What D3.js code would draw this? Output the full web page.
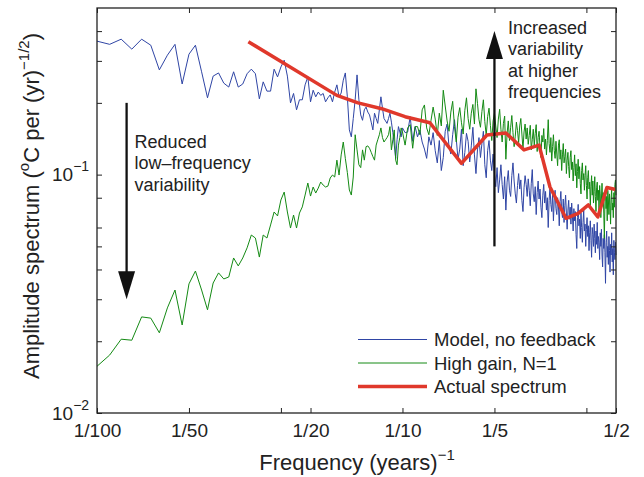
<!DOCTYPE html>
<html>
<head>
<meta charset="utf-8">
<script src="https://cdn.jsdelivr.net/npm/d3@7"></script>
<style>
  body { margin: 0; background: #fff; }
  text { font-family: "Liberation Sans", Arial, Helvetica, sans-serif; fill: #222; }
</style>
</head>
<body>
<div id="chart"></div>
<script>
// frequency grid of the spectra (cycles per year): 1/1000 steps up to 0.1, then 2/1000 steps
const freqs = d3.range(10, 100).concat(d3.range(100, 501, 2)).map(k => k / 1000);

// Model, no feedback (amplitude, degC per yr^-1/2)
const modelNoFeedback = [
  0.363, 0.352, 0.370, 0.336, 0.370, 0.349, 0.275, 0.317, 0.352, 0.240,
  0.320, 0.349, 0.270, 0.210, 0.259, 0.267, 0.242, 0.233, 0.270, 0.233,
  0.240, 0.265, 0.277, 0.265, 0.208, 0.245, 0.224, 0.224, 0.277, 0.257,
  0.283, 0.302, 0.259, 0.200, 0.219, 0.187, 0.206, 0.206, 0.238, 0.257,
  0.202, 0.226, 0.212, 0.222, 0.215, 0.219, 0.202, 0.210, 0.216, 0.202,
  0.222, 0.238, 0.212, 0.220, 0.249, 0.267, 0.212, 0.154, 0.144, 0.172,
  0.206, 0.262, 0.206, 0.178, 0.169, 0.187, 0.192, 0.183, 0.178, 0.166,
  0.154, 0.181, 0.172, 0.164, 0.187, 0.212, 0.190, 0.172, 0.168, 0.164,
  0.172, 0.181, 0.166, 0.150, 0.133, 0.117, 0.140, 0.159, 0.151, 0.144,
  // from 0.100 in steps of 0.002
  0.157, 0.150, 0.151, 0.175, 0.138, 0.159, 0.144, 0.154, 0.137, 0.128,
  0.117, 0.144, 0.133, 0.150, 0.126, 0.112, 0.139, 0.104, 0.118, 0.152,
  0.163, 0.131, 0.122, 0.147, 0.170, 0.141, 0.116, 0.128, 0.155, 0.109,
  0.124, 0.149, 0.138, 0.113, 0.132, 0.158, 0.121, 0.101, 0.127, 0.143,
  0.118, 0.135, 0.152, 0.110, 0.097, 0.126, 0.139, 0.115, 0.104, 0.122,
  0.101, 0.089, 0.107, 0.084, 0.095, 0.110, 0.091, 0.079, 0.098, 0.071,
  0.093, 0.104, 0.086, 0.081, 0.099, 0.112, 0.094, 0.083, 0.076, 0.090,
  0.101, 0.087, 0.095, 0.078, 0.070, 0.088, 0.099, 0.091, 0.081, 0.096,
  0.086, 0.074, 0.092, 0.105, 0.083, 0.077, 0.089, 0.068, 0.084, 0.094,
  0.079, 0.087, 0.073, 0.066, 0.082, 0.091, 0.076, 0.085, 0.071, 0.080,
  0.060, 0.078, 0.089, 0.075, 0.070, 0.083, 0.064, 0.079, 0.086, 0.072,
  0.068, 0.080, 0.074, 0.061, 0.077, 0.085, 0.070, 0.066, 0.079, 0.063,
  0.074, 0.082, 0.069, 0.059, 0.071, 0.078, 0.065, 0.073, 0.062, 0.076,
  0.067, 0.058, 0.072, 0.064, 0.070, 0.056, 0.049, 0.066, 0.075, 0.061,
  0.065, 0.054, 0.069, 0.060, 0.052, 0.063, 0.071, 0.058, 0.062, 0.050,
  0.059, 0.066, 0.055, 0.061, 0.048, 0.057, 0.064, 0.053, 0.045, 0.060,
  0.056, 0.050, 0.062, 0.054, 0.047, 0.058, 0.051, 0.063, 0.049, 0.055,
  0.052, 0.044, 0.057, 0.050, 0.059, 0.046, 0.041, 0.054, 0.049, 0.056,
  0.047, 0.035, 0.052, 0.058, 0.045, 0.050, 0.042, 0.055, 0.048, 0.039,
  0.051, 0.046, 0.057, 0.043, 0.049, 0.038, 0.053, 0.047, 0.044, 0.052,
  0.046
];

// High gain, N=1
const highGain = [
  0.0157, 0.0175, 0.0204, 0.0202, 0.0253, 0.0250, 0.0217, 0.0276, 0.0328, 0.0234,
  0.0348, 0.0394, 0.0328, 0.0271, 0.0351, 0.0387, 0.0365, 0.0372, 0.0447, 0.0414,
  0.0447, 0.0493, 0.0558, 0.0542, 0.0451, 0.0558, 0.0542, 0.0615, 0.0697, 0.0671,
  0.0783, 0.0845, 0.0697, 0.0597, 0.0677, 0.0597, 0.0690, 0.0732, 0.0821, 0.0922,
  0.0813, 0.0887, 0.0837, 0.0878, 0.0931, 0.0904, 0.0887, 0.0895, 0.0968, 0.0996,
  0.0977, 0.115, 0.0996, 0.121, 0.137, 0.117, 0.102, 0.0862, 0.0821, 0.0977,
  0.147, 0.127, 0.110, 0.107, 0.127, 0.115, 0.131, 0.132, 0.129, 0.124,
  0.119, 0.115, 0.133, 0.140, 0.147, 0.157, 0.143, 0.137, 0.140, 0.143,
  0.147, 0.159, 0.127, 0.140, 0.154, 0.115, 0.110, 0.133, 0.143, 0.157,
  // from 0.100 in steps of 0.002
  0.151, 0.133, 0.157, 0.162, 0.129, 0.159, 0.159, 0.147, 0.187, 0.196,
  0.157, 0.147, 0.169, 0.192, 0.171, 0.146, 0.181, 0.160, 0.226, 0.194,
  0.168, 0.152, 0.183, 0.203, 0.159, 0.137, 0.174, 0.191, 0.165, 0.148,
  0.186, 0.210, 0.172, 0.155, 0.181, 0.197, 0.163, 0.229, 0.199, 0.170,
  0.158, 0.184, 0.206, 0.167, 0.146, 0.175, 0.190, 0.161, 0.139, 0.168,
  0.181, 0.160, 0.143, 0.171, 0.188, 0.155, 0.137, 0.164, 0.176, 0.116,
  0.149, 0.168, 0.139, 0.158, 0.177, 0.150, 0.131, 0.145, 0.166, 0.153,
  0.136, 0.160, 0.172, 0.148, 0.128, 0.151, 0.163, 0.141, 0.157, 0.134,
  0.146, 0.161, 0.127, 0.140, 0.155, 0.133, 0.149, 0.162, 0.125, 0.143,
  0.152, 0.130, 0.118, 0.146, 0.137, 0.156, 0.128, 0.141, 0.121, 0.139,
  0.170, 0.135, 0.124, 0.143, 0.114, 0.131, 0.147, 0.126, 0.117, 0.138,
  0.122, 0.109, 0.133, 0.140, 0.116, 0.127, 0.104, 0.121, 0.135, 0.112,
  0.119, 0.128, 0.101, 0.115, 0.124, 0.108, 0.097, 0.118, 0.126, 0.105,
  0.113, 0.094, 0.107, 0.121, 0.099, 0.111, 0.088, 0.103, 0.116, 0.096,
  0.108, 0.092, 0.083, 0.104, 0.112, 0.095, 0.101, 0.086, 0.099, 0.109,
  0.090, 0.079, 0.097, 0.104, 0.087, 0.093, 0.074, 0.089, 0.099, 0.082,
  0.094, 0.076, 0.085, 0.098, 0.081, 0.070, 0.088, 0.093, 0.078, 0.086,
  0.071, 0.090, 0.083, 0.066, 0.079, 0.092, 0.075, 0.084, 0.069, 0.054,
  0.077, 0.088, 0.072, 0.081, 0.064, 0.086, 0.079, 0.068, 0.083, 0.074,
  0.062, 0.080, 0.087, 0.071, 0.076, 0.066, 0.084, 0.073, 0.091, 0.095,
  0.082
];

// Actual spectrum
const actualFreq = [0.0313, 0.061, 0.0715, 0.0855, 0.102, 0.123, 0.156, 0.189, 0.218,
                    0.250, 0.280, 0.304, 0.343, 0.376, 0.406, 0.436, 0.467, 0.498];
const actualAmp = [0.361, 0.215, 0.200, 0.189, 0.175, 0.165, 0.1115, 0.1466, 0.1495,
                   0.127, 0.133, 0.0887, 0.0656, 0.0688, 0.0746, 0.0664, 0.0883, 0.0866];

const xTickValues = [0.01, 0.02, 0.05, 0.1, 0.2, 0.5];
const xTickLabels = ["1/100", "1/50", "1/20", "1/10", "1/5", "1/2"];
const xMinorTicks = [0.04, 0.4];
const yTickValues = [0.01, 0.1];
const yTickExponents = ["\u22122", "\u22121"];
const yMinorTicks = [0.02, 0.03, 0.04, 0.05, 0.06, 0.08, 0.2, 0.3, 0.4];
const seriesNames = ["Model, no feedback", "High gain, N=1", "Actual spectrum"];
const seriesColors = ["#2f45a5", "#148a14", "#e0382b"];
const seriesWidths = [1, 1, 3.5];

const width = 644, height = 477;
const margin = { top: 8, right: 28, bottom: 64, left: 97 };
const w = width - margin.left - margin.right,
      h = height - margin.top - margin.bottom;

const svg = d3.select("#chart")
  .append("svg")
  .attr("width", width)
  .attr("height", height);

const chart = svg.append("g")
  .attr("transform", `translate(${margin.left},${margin.top})`);

const x = d3.scaleLog().domain([0.01, 0.5]).range([0, w]);
const y = d3.scaleLog().domain([0.01, 0.5]).range([h, 0]);

// series
const line = d3.line()
  .x(d => x(d[0]))
  .y(d => y(d[1]));

const series = [
  d3.zip(freqs, modelNoFeedback),
  d3.zip(freqs, highGain),
  d3.zip(actualFreq, actualAmp)
];

series.forEach((pts, i) => {
  chart.append("path")
    .datum(pts)
    .attr("fill", "none")
    .attr("stroke", seriesColors[i])
    .attr("stroke-width", seriesWidths[i])
    .attr("stroke-linejoin", "round")
    .attr("d", line);
});

// axes (ticks inside, on all four sides)
const allX = xTickValues.concat(xMinorTicks);
const allY = yTickValues.concat(yMinorTicks);

const bottom = chart.append("g")
  .attr("transform", `translate(0,${h})`)
  .call(d3.axisBottom(x).tickValues(allX).tickSizeInner(-5).tickSizeOuter(0).tickPadding(10.5)
    .tickFormat(d => { const i = xTickValues.indexOf(d); return i < 0 ? "" : xTickLabels[i]; }));
chart.append("g")
  .call(d3.axisTop(x).tickValues(allX).tickSizeInner(-5).tickSizeOuter(0).tickFormat(""));
chart.append("g")
  .call(d3.axisLeft(y).tickValues(allY).tickSizeInner(-5).tickSizeOuter(0).tickFormat(""));
chart.append("g")
  .attr("transform", `translate(${w},0)`)
  .call(d3.axisRight(y).tickValues(allY).tickSizeInner(-5).tickSizeOuter(0).tickFormat(""));

chart.selectAll(".domain").remove();
chart.selectAll(".tick line").attr("stroke", "#222").attr("stroke-width", 1);
bottom.selectAll("text")
  .style("font-family", "'Liberation Sans', Arial, sans-serif")
  .style("font-size", "19px")
  .attr("fill", "#222");

// y tick labels as powers of ten
yTickValues.forEach((v, i) => {
  const t = chart.append("text")
    .attr("x", -45)
    .attr("y", y(v) + 6.5)
    .style("font-size", "19px");
  t.append("tspan").text("10");
  t.append("tspan")
    .attr("dy", -10)
    .style("font-size", "14px")
    .text(yTickExponents[i]);
});

chart.append("rect")
  .attr("width", w)
  .attr("height", h)
  .attr("fill", "none")
  .attr("stroke", "#222")
  .attr("stroke-width", 1.3);

// axis titles
const xt = chart.append("text")
  .attr("x", w / 2 + 0.5)
  .attr("y", h + 57)
  .attr("text-anchor", "middle")
  .style("font-size", "22px");
xt.append("tspan").text("Frequency (years)");
xt.append("tspan").attr("dy", -10).style("font-size", "15px").text("\u22121");

const yt = chart.append("text")
  .attr("transform", `translate(${39 - margin.left},${206 - margin.top}) rotate(-90)`)
  .attr("text-anchor", "middle")
  .style("font-size", "22px");
yt.append("tspan").text("Amplitude spectrum (");
yt.append("tspan").attr("dy", -10).style("font-size", "15px").text("o");
yt.append("tspan").attr("dy", 10).text("C per (yr)");
yt.append("tspan").attr("dy", -10).style("font-size", "15px").text("\u22121/2");
yt.append("tspan").attr("dy", 10).text(")");

// arrows
const arrow = function(f, from, to, label, tx, ty) {
  const ax = x(f), y0 = y(from), y1 = y(to);
  const dir = y1 > y0 ? 1 : -1;
  chart.append("line")
    .attr("x1", ax).attr("x2", ax)
    .attr("y1", y0).attr("y2", y1 - dir * 20)
    .attr("stroke", "#111")
    .attr("stroke-width", 2.3);
  chart.append("path")
    .attr("d", `M${ax - 8.5},${y1 - dir * 28}L${ax + 8.5},${y1 - dir * 28}L${ax},${y1}Z`)
    .attr("fill", "#111");
  label.forEach((s, i) => {
    chart.append("text")
      .attr("x", ax + tx)
      .attr("y", ty + i * 21.5)
      .style("font-size", "18px")
      .text(s);
  });
};

arrow(0.0125, 0.2, 0.03, ["Reduced", "low\u2013frequency", "variability"], 8, 147.5 - margin.top);
arrow(0.2, 0.05, 0.4, ["Increased", "variability", "at higher", "frequencies"], 13.5, 33.5 - margin.top);

// legend
const legend = chart.append("g")
  .attr("transform", `translate(${358 - margin.left},${339.5 - margin.top})`);

seriesNames.forEach((name, i) => {
  legend.append("line")
    .attr("x1", 0).attr("x2", 69)
    .attr("y1", i * 23.5).attr("y2", i * 23.5)
    .attr("stroke", seriesColors[i])
    .attr("stroke-width", seriesWidths[i]);
  legend.append("text")
    .attr("x", 76)
    .attr("y", i * 23.5 + 6.5)
    .style("font-size", "18.5px")
    .text(name);
});
</script>
</body>
</html>
